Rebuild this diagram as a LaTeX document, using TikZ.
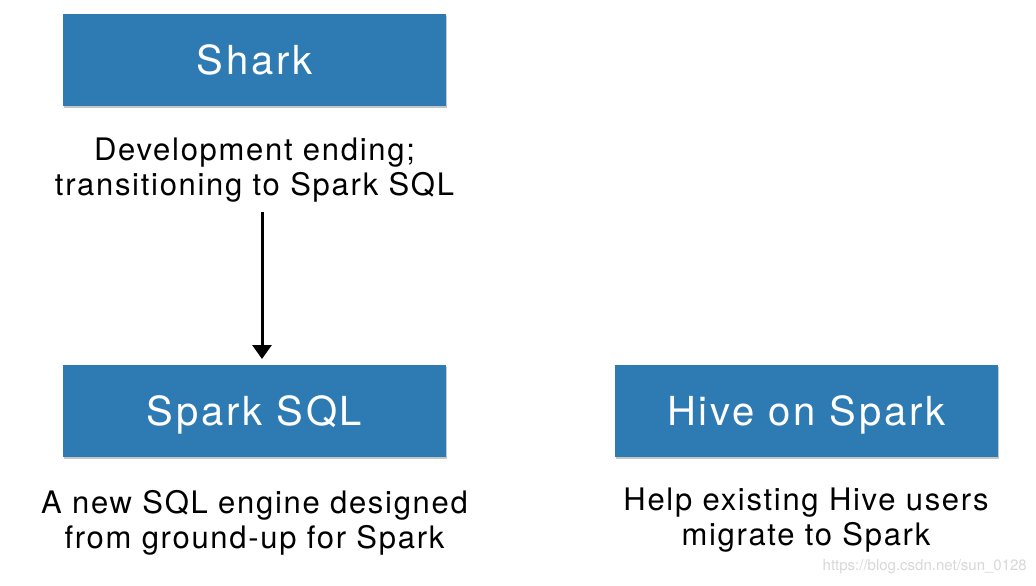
\documentclass[tikz,border=0pt]{standalone}
\usepackage{fontspec}
\setmainfont{TeX Gyre Heros}
\usetikzlibrary{shadows,arrows.meta}
\definecolor{boxblue}{HTML}{2E7BB4}
\definecolor{wm}{HTML}{D8D8D8}
\tikzset{
  bluebox/.style={fill=boxblue, draw=none, minimum width=383pt, minimum height=92pt,
    inner sep=0pt, text height=29pt, text depth=0pt, text=white,
    font=\fontsize{40}{42}\selectfont\addfontfeature{LetterSpace=7},
    drop shadow={shadow xshift=1pt, shadow yshift=-2pt, fill=black!45, opacity=0.5}},
  desc/.style={align=center, text=black, font=\fontsize{31}{35}\selectfont\addfontfeature{LetterSpace=5.5}, inner sep=0pt},
  flow/.style={line width=3pt, -{Triangle[width=19pt,length=14pt]}}
}
\begin{document}
\begin{tikzpicture}[x=1pt,y=-1pt]
\useasboundingbox[fill=white] (0,0) rectangle (1036,586);
\node[bluebox] (shark) at (254.5,60) {Shark};
\node[desc] (sharkd) at (254.5,170) {Development ending;\\transitioning to Spark SQL};
\node[bluebox] (sql) at (254.5,411) {Spark SQL};
\node[desc] (sqld) at (254.5,523) {A new SQL engine designed\\from ground-up for Spark};
\node[bluebox] (hive) at (806.5,411) {Hive on Spark};
\node[desc] (hived) at (806,520) {Help existing Hive users\\migrate to Spark};
\node[text=wm, font=\fontsize{15}{16}\selectfont, anchor=east, inner sep=0pt] (wmark) at (1027,567) {https://blog.csdn.net/sun\_0128};
\coordinate (astart) at (262,212);
\draw[flow] (astart) -- (262,359);
\end{tikzpicture}
\end{document}
